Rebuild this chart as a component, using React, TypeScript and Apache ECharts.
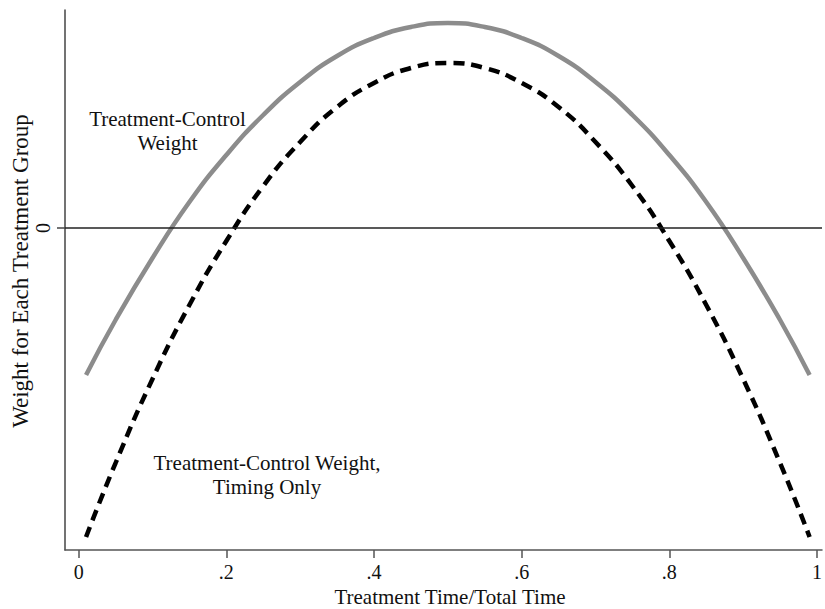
import React, { useEffect, useRef } from "react";
import * as echarts from "echarts";

const xValues = [0.01, 0.05, 0.1, 0.15, 0.2, 0.25, 0.3, 0.35, 0.4, 0.45, 0.5, 0.55, 0.6, 0.65, 0.7, 0.75, 0.8, 0.85, 0.9, 0.95, 0.99];
const weightAll = [-1.47, -0.92, -0.3, 0.26, 0.73, 1.13, 1.46, 1.72, 1.9, 2.01, 2.05, 2.01, 1.9, 1.72, 1.46, 1.13, 0.73, 0.26, -0.3, -0.92, -1.47];
const weightTiming = [-3.09, -2.35, -1.51, -0.77, -0.13, 0.42, 0.86, 1.21, 1.45, 1.6, 1.65, 1.6, 1.45, 1.21, 0.86, 0.42, -0.13, -0.77, -1.51, -2.35, -3.09];
const xTicks = [0, 0.2, 0.4, 0.6, 0.8, 1];
const yTicks = [0];
const xTitle = "Treatment Time/Total Time";
const yTitle = "Weight for Each Treatment Group";
const label1 = ["Treatment-Control", "Weight"];
const label2 = ["Treatment-Control Weight,", "Timing Only"];

const FONT = "'Liberation Serif', 'Times New Roman', serif";

export default function App() {
  const ref = useRef<HTMLDivElement>(null);
  useEffect(() => {
    if (!ref.current) return;
    const chart = echarts.init(ref.current, null, { renderer: "svg" });
    const fmt = (v: number) => {
      if (v === 0) return "0";
      if (v === 1) return "1";
      return String(v).replace(/^0\./, ".");
    };
    chart.setOption({
      animation: false,
      backgroundColor: "#ffffff",
      grid: { left: 65, right: 0, top: 10, bottom: 59, containLabel: false },
      xAxis: {
        type: "value",
        min: -0.0185,
        max: 1.0068,
        axisLine: { show: true, onZero: false, lineStyle: { color: "#555", width: 1.5 } },
        axisTick: { show: true, customValues: xTicks, length: 8, lineStyle: { color: "#555", width: 1.5 } },
        axisLabel: { customValues: xTicks, formatter: fmt, color: "#111", fontFamily: FONT, fontSize: 20, margin: 12 },
        splitLine: { show: false },
      },
      yAxis: {
        type: "value",
        min: -3.22,
        max: 2.18,
        axisLine: { show: true, onZero: false, lineStyle: { color: "#444", width: 1.5 } },
        axisTick: { show: true, customValues: yTicks, length: 8, lineStyle: { color: "#444", width: 1.5 } },
        axisLabel: { customValues: yTicks, formatter: fmt, rotate: 90, color: "#111", fontFamily: FONT, fontSize: 20, margin: 12 },
        splitLine: { show: false },
      },
      graphic: [
        {
          type: "text",
          x: 450,
          y: 597,
          style: { text: xTitle, fill: "#111", font: `21px ${FONT}`, align: "center", verticalAlign: "middle" },
          silent: true,
        },
        {
          type: "text",
          x: 20,
          y: 271,
          rotation: Math.PI / 2,
          style: { text: yTitle, fill: "#111", font: `23px ${FONT}`, align: "center", verticalAlign: "middle" },
          silent: true,
        },
        {
          type: "text",
          x: 167.5,
          y: 131,
          style: { text: label1.join("\n"), fill: "#111", font: `21px ${FONT}`, align: "center", verticalAlign: "middle", lineHeight: 24 },
          silent: true,
        },
        {
          type: "text",
          x: 267,
          y: 475,
          style: { text: label2.join("\n"), fill: "#111", font: `21px ${FONT}`, align: "center", verticalAlign: "middle", lineHeight: 24 },
          silent: true,
        },
      ],
      series: [
        {
          type: "line",
          data: xValues.map((x, i) => [x, weightAll[i]]),
          smooth: true,
          showSymbol: false,
          lineStyle: { color: "#8c8c8c", width: 4.5 },
          z: 3,
          markLine: {
            silent: true,
            symbol: ["none", "none"],
            label: { show: false },
            lineStyle: { color: "#222", width: 1.5, type: "solid" },
            data: [{ yAxis: 0 }],
          },
        },
        {
          type: "line",
          data: xValues.map((x, i) => [x, weightTiming[i]]),
          smooth: true,
          showSymbol: false,
          lineStyle: { color: "#000", width: 4.5, type: [11, 7] },
          z: 4,
        },
      ],
    });
    return () => chart.dispose();
  }, []);
  return <div ref={ref} style={{ position: "fixed", left: 0, top: 0, width: 825, height: 609 }} />;
}
